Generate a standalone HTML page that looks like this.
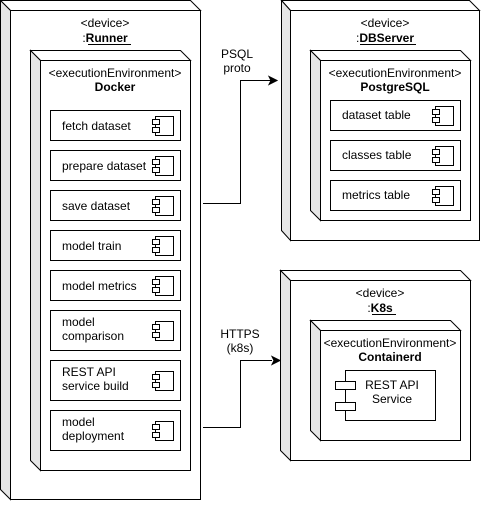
<!DOCTYPE html>
<html><head><meta charset="utf-8"><style>
html,body{margin:0;padding:0;background:#fff}
svg text{font-family:"Liberation Sans",Arial,sans-serif;font-size:12px;fill:#000}
</style></head><body>
<svg width="481" height="501" viewBox="0 0 481 501" xmlns="http://www.w3.org/2000/svg">
<defs>
<g id="ic">
<rect x="0" y="0" width="18" height="19" fill="#fff" stroke="#000" stroke-width="1"/>
<rect x="-3" y="3" width="7" height="5" fill="#fff" stroke="#000" stroke-width="1"/>
<rect x="-3" y="11" width="7" height="5" fill="#fff" stroke="#000" stroke-width="1"/>
</g>
</defs>
<g stroke="#000" stroke-width="1">
<!-- Runner -->
<polygon points="0.5,0.5 190.5,0.5 200.5,10.5 10.5,10.5" fill="#fff"/>
<polygon points="0.5,0.5 10.5,10.5 10.5,499.5 0.5,489.5" fill="#e6e6e6"/>
<rect x="10.5" y="10.5" width="190" height="489" fill="#fff"/>
<!-- Docker -->
<polygon points="30.5,50.5 180.5,50.5 190.5,60.5 40.5,60.5" fill="#fff"/>
<polygon points="30.5,50.5 40.5,60.5 40.5,470.5 30.5,460.5" fill="#e6e6e6"/>
<rect x="40.5" y="60.5" width="150" height="410" fill="#fff"/>
<!-- components -->
<rect x="50.5" y="110.5" width="130" height="30" fill="#fff"/>
<rect x="50.5" y="150.5" width="130" height="30" fill="#fff"/>
<rect x="50.5" y="190.5" width="130" height="30" fill="#fff"/>
<rect x="50.5" y="230.5" width="130" height="30" fill="#fff"/>
<rect x="50.5" y="270.5" width="130" height="30" fill="#fff"/>
<rect x="50.5" y="310.5" width="130" height="40" fill="#fff"/>
<rect x="50.5" y="360.5" width="130" height="40" fill="#fff"/>
<rect x="50.5" y="410.5" width="130" height="40" fill="#fff"/>
<!-- DBServer -->
<polygon points="281.5,0.5 469.5,0.5 479.5,10.5 290.5,10.5" fill="#fff"/>
<polygon points="281.5,0.5 290.5,10.5 290.5,240.5 281.5,230.5" fill="#e6e6e6"/>
<rect x="290.5" y="10.5" width="189" height="230" fill="#fff"/>
<polygon points="310.5,50.5 460.5,50.5 470.5,60.5 320.5,60.5" fill="#fff"/>
<polygon points="310.5,50.5 320.5,60.5 320.5,220.5 310.5,210.5" fill="#e6e6e6"/>
<rect x="320.5" y="60.5" width="150" height="160" fill="#fff"/>
<rect x="330.5" y="100.5" width="130" height="30" fill="#fff"/>
<rect x="330.5" y="140.5" width="130" height="30" fill="#fff"/>
<rect x="330.5" y="180.5" width="130" height="30" fill="#fff"/>
<!-- K8s -->
<polygon points="280.5,270.5 460.5,270.5 470.5,280.5 290.5,280.5" fill="#fff"/>
<polygon points="280.5,270.5 290.5,280.5 290.5,460.5 280.5,450.5" fill="#e6e6e6"/>
<rect x="290.5" y="280.5" width="180" height="180" fill="#fff"/>
<polygon points="310.5,320.5 450.5,320.5 460.5,330.5 320.5,330.5" fill="#fff"/>
<polygon points="310.5,320.5 320.5,330.5 320.5,440.5 310.5,430.5" fill="#e6e6e6"/>
<rect x="320.5" y="330.5" width="140" height="110" fill="#fff"/>
<rect x="345.5" y="370.5" width="90" height="50" fill="#fff"/>
<rect x="335.5" y="381.5" width="20" height="8" fill="#fff"/>
<rect x="335.5" y="402.5" width="20" height="8" fill="#fff"/>
<!-- connectors -->
<polyline points="203,203.5 240.5,203.5 240.5,80.5 272,80.5" fill="none"/>
<polyline points="203,427.5 240.5,427.5 240.5,360.5 272,360.5" fill="none" />
</g>
<polygon points="277,80.5 269,76.5 271,80.5 269,84.5" fill="#000" stroke="#000"/>
<polygon points="280,360.5 272,356.5 274,360.5 272,364.5" fill="#000" stroke="#000"/>
<use href="#ic" x="155.5" y="116.5"/>
<use href="#ic" x="155.5" y="156.5"/>
<use href="#ic" x="155.5" y="196.5"/>
<use href="#ic" x="155.5" y="236.5"/>
<use href="#ic" x="155.5" y="276.5"/>
<use href="#ic" x="155.5" y="321.5"/>
<use href="#ic" x="155.5" y="371.5"/>
<use href="#ic" x="155.5" y="421.5"/>
<use href="#ic" x="435.5" y="106.5"/>
<use href="#ic" x="435.5" y="146.5"/>
<use href="#ic" x="435.5" y="186.5"/>
<g text-anchor="middle">
<text x="105" y="27">&lt;device&gt;</text>
<text x="105" y="42" font-weight="bold"><tspan font-weight="normal">:</tspan>Runner</text>
<line x1="88" y1="44.5" x2="131" y2="44.5" stroke="#000"/>
<text x="115" y="77">&lt;executionEnvironment&gt;</text>
<text x="115" y="91" font-weight="bold">Docker</text>
<text x="385" y="27">&lt;device&gt;</text>
<text x="385" y="42" font-weight="bold"><tspan font-weight="normal">:</tspan>DBServer</text>
<line x1="360" y1="44.5" x2="416" y2="44.5" stroke="#000"/>
<text x="395" y="77">&lt;executionEnvironment&gt;</text>
<text x="395" y="91" font-weight="bold">PostgreSQL</text>
<text x="380" y="297">&lt;device&gt;</text>
<text x="380" y="312" font-weight="bold"><tspan font-weight="normal">:</tspan>K8s</text>
<line x1="372" y1="314.5" x2="396" y2="314.5" stroke="#000"/>
<text x="390" y="347">&lt;executionEnvironment&gt;</text>
<text x="390" y="361" font-weight="bold">Containerd</text>
<text x="392" y="389">REST API</text>
<text x="392" y="403">Service</text>
<text x="237" y="58">PSQL</text>
<text x="237" y="72">proto</text>
<text x="240" y="338">HTTPS</text>
<text x="240" y="352">(k8s)</text>
</g>
<text x="62" y="130">fetch dataset</text>
<text x="62" y="170">prepare dataset</text>
<text x="62" y="210">save dataset</text>
<text x="62" y="250">model train</text>
<text x="62" y="290">model metrics</text>
<text x="62" y="326">model</text>
<text x="62" y="340">comparison</text>
<text x="62" y="376">REST API</text>
<text x="62" y="390">service build</text>
<text x="62" y="426">model</text>
<text x="62" y="440">deployment</text>
<text x="342" y="119">dataset table</text>
<text x="342" y="159">classes table</text>
<text x="342" y="199">metrics table</text>
</svg>
</body></html>
